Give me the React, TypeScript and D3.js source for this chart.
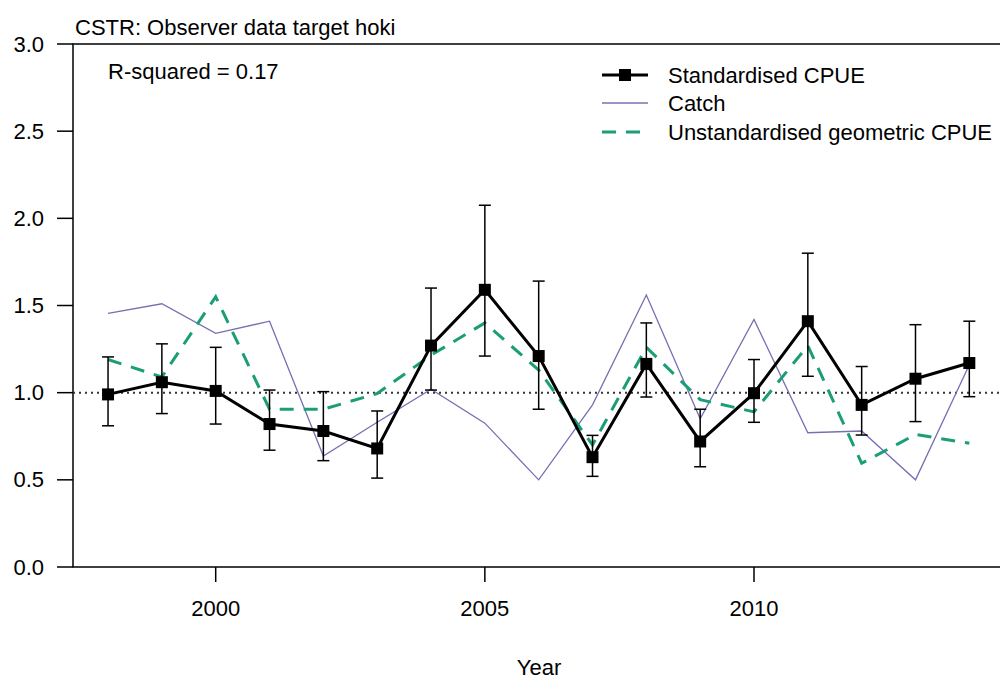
import { useRef, useEffect } from "react";
import * as d3 from "d3";

const years = [1998, 1999, 2000, 2001, 2002, 2003, 2004, 2005, 2006, 2007, 2008, 2009, 2010, 2011, 2012, 2013, 2014];
const stdCpue = [0.99, 1.06, 1.01, 0.82, 0.78, 0.68, 1.27, 1.59, 1.21, 0.63, 1.165, 0.72, 0.997, 1.41, 0.93, 1.08, 1.17];
const stdUpper = [1.205, 1.28, 1.26, 1.015, 1.006, 0.895, 1.6, 2.075, 1.64, 0.755, 1.4, 0.905, 1.19, 1.8, 1.15, 1.39, 1.41];
const stdLower = [0.81, 0.88, 0.82, 0.67, 0.61, 0.51, 1.015, 1.21, 0.905, 0.52, 0.975, 0.575, 0.83, 1.094, 0.757, 0.834, 0.977];
const catchIdx = [1.455, 1.51, 1.34, 1.41, 0.637, 0.83, 1.02, 0.825, 0.5, 0.93, 1.56, 0.85, 1.42, 0.77, 0.78, 0.5, 1.16];
const geoCpue = [1.19, 1.09, 1.55, 0.905, 0.905, 0.995, 1.215, 1.4, 1.13, 0.7, 1.26, 0.96, 0.89, 1.27, 0.595, 0.76, 0.71];
const yTicks = [0, 0.5, 1, 1.5, 2, 2.5, 3];
const xTicks = [2000, 2005, 2010];
const legendItems = ["Standardised CPUE", "Catch", "Unstandardised geometric CPUE"];

const FONT = "'Liberation Sans', Arial, sans-serif";
const FS = 22;
const PURPLE = "#7570b3";
const GREEN = "#1b9e77";

export default function App() {
  const svgRef = useRef<SVGSVGElement>(null);

  useEffect(() => {
    if (!svgRef.current) return;
    const svg = d3.select(svgRef.current);
    svg.selectAll("*").remove();

    const width = 1000;
    const height = 680;
    const left = 73, top = 44, bottom = 567, right = 1000;

    const x = d3.scaleLinear().domain([2000, 2010]).range([215.7, 754]);
    const y = d3.scaleLinear().domain([0, 3]).range([bottom, top]);

    svg.attr("width", width).attr("height", height).style("font-family", FONT);

    // frame: left, top, bottom
    svg.append("path")
      .attr("d", `M${right},${top}H${left}V${bottom}H${right}`)
      .attr("fill", "none").attr("stroke", "#000").attr("stroke-width", 1.5);

    // y ticks
    yTicks.forEach((t) => {
      svg.append("line").attr("x1", left - 16).attr("x2", left)
        .attr("y1", y(t)).attr("y2", y(t)).attr("stroke", "#000").attr("stroke-width", 1.5);
      svg.append("text").attr("x", 44).attr("y", y(t)).attr("text-anchor", "end")
        .attr("dominant-baseline", "central").attr("font-size", FS).text(t.toFixed(1));
    });

    // x ticks
    xTicks.forEach((t) => {
      svg.append("line").attr("x1", x(t)).attr("x2", x(t))
        .attr("y1", bottom).attr("y2", bottom + 15).attr("stroke", "#000").attr("stroke-width", 1.5);
      svg.append("text").attr("x", x(t)).attr("y", 608).attr("text-anchor", "middle")
        .attr("dominant-baseline", "central").attr("font-size", FS).text(t);
    });

    svg.append("text").attr("x", 539).attr("y", 667).attr("text-anchor", "middle")
      .attr("dominant-baseline", "central").attr("font-size", FS).text("Year");

    svg.append("text").attr("x", 75).attr("y", 27).attr("font-size", FS)
      .attr("dominant-baseline", "central").text("CSTR: Observer data target hoki");

    svg.append("text").attr("x", 108).attr("y", 71).attr("font-size", FS)
      .attr("dominant-baseline", "central").text("R-squared = 0.17");

    // reference line at 1
    svg.append("line").attr("x1", left).attr("x2", right).attr("y1", y(1)).attr("y2", y(1))
      .attr("stroke", "#333").attr("stroke-width", 2).attr("stroke-dasharray", "2,4");

    const line = d3.line<number>().x((_, i) => x(years[i])).y((d) => y(d));

    svg.append("path").attr("d", line(catchIdx)).attr("fill", "none")
      .attr("stroke", PURPLE).attr("stroke-width", 1.3);

    svg.append("path").attr("d", line(geoCpue)).attr("fill", "none")
      .attr("stroke", GREEN).attr("stroke-width", 3).attr("stroke-dasharray", "14,10");

    // error bars
    years.forEach((yr, i) => {
      const cx = x(yr);
      svg.append("line").attr("x1", cx).attr("x2", cx).attr("y1", y(stdUpper[i])).attr("y2", y(stdLower[i]))
        .attr("stroke", "#000").attr("stroke-width", 1.5);
      [stdUpper[i], stdLower[i]].forEach((v) => {
        svg.append("line").attr("x1", cx - 6).attr("x2", cx + 6).attr("y1", y(v)).attr("y2", y(v))
          .attr("stroke", "#000").attr("stroke-width", 1.5);
      });
    });

    svg.append("path").attr("d", line(stdCpue)).attr("fill", "none")
      .attr("stroke", "#000").attr("stroke-width", 3);

    svg.selectAll("rect.pt").data(stdCpue).enter().append("rect")
      .attr("x", (_, i) => x(years[i]) - 6).attr("y", (d) => y(d) - 6)
      .attr("width", 12).attr("height", 12).attr("fill", "#000");

    // legend
    const rowY = [75, 103, 132];
    const lg = svg.append("g");
    lg.append("line").attr("x1", 602).attr("x2", 648).attr("y1", rowY[0]).attr("y2", rowY[0])
      .attr("stroke", "#000").attr("stroke-width", 3);
    lg.append("rect").attr("x", 619).attr("y", rowY[0] - 6).attr("width", 12).attr("height", 12).attr("fill", "#000");
    lg.append("line").attr("x1", 602).attr("x2", 648).attr("y1", rowY[1]).attr("y2", rowY[1])
      .attr("stroke", PURPLE).attr("stroke-width", 1.3);
    lg.append("line").attr("x1", 602).attr("x2", 648).attr("y1", rowY[2]).attr("y2", rowY[2])
      .attr("stroke", GREEN).attr("stroke-width", 3).attr("stroke-dasharray", "14,10");
    legendItems.forEach((t, i) => {
      lg.append("text").attr("x", 668).attr("y", rowY[i]).attr("dominant-baseline", "central")
        .attr("font-size", FS).text(t);
    });
  }, []);

  return <svg ref={svgRef} style={{ position: "absolute", left: 0, top: 0 }} />;
}
